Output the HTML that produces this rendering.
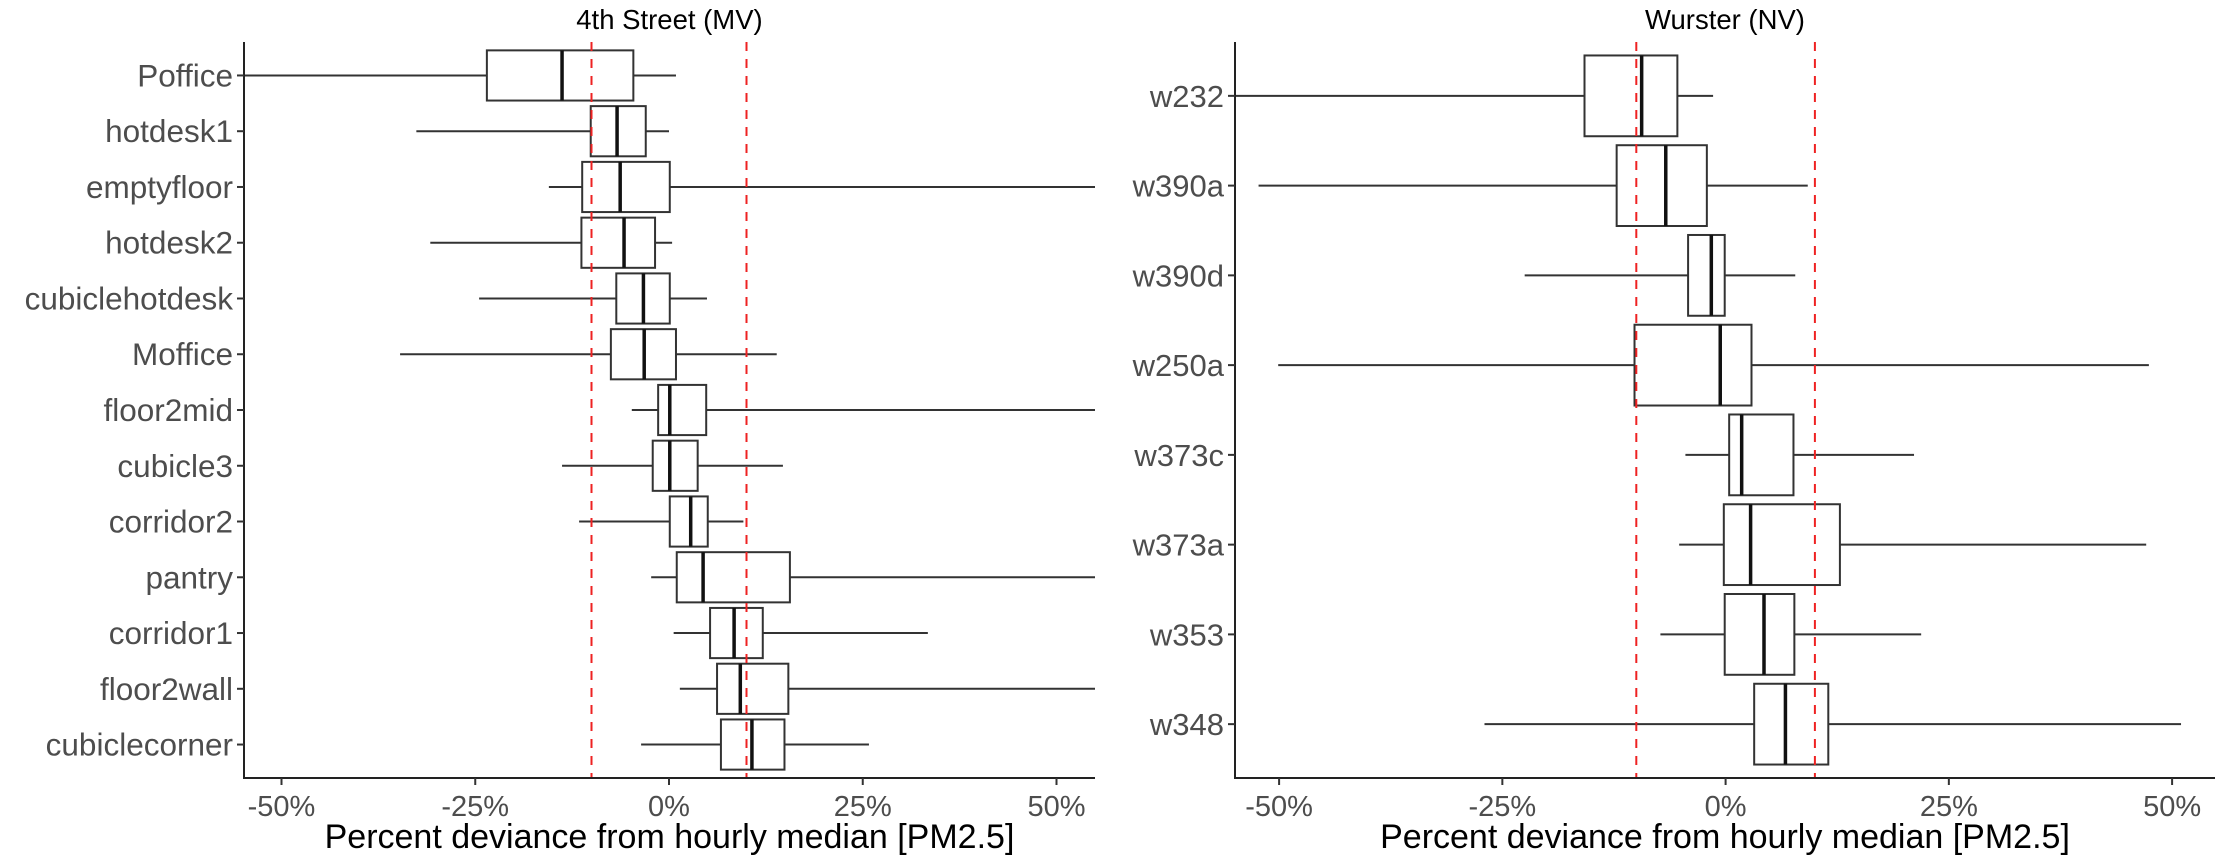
<!DOCTYPE html>
<html><head><meta charset="utf-8"><style>
html,body{margin:0;padding:0;background:#fff;}
svg{display:block;font-family:"Liberation Sans",Arial,sans-serif;}
</style></head><body>
<svg id="chart" width="2220" height="857" viewBox="0 0 2220 857"></svg>
<script>
// ---- Left panel data (4th Street) ----
const leftCats = ["Poffice","hotdesk1","emptyfloor","hotdesk2","cubiclehotdesk","Moffice","floor2mid","cubicle3","corridor2","pantry","corridor1","floor2wall","cubiclecorner"];
const leftLo  = [-60,-32.6,-15.5,-30.8,-24.5,-34.7,-4.8,-13.8,-11.6,-2.3,0.6,1.4,-3.6];
const leftQ1  = [-23.5,-10.1,-11.2,-11.3,-6.8,-7.5,-1.4,-2.1,0.1,1.0,5.3,6.2,6.7];
const leftMed = [-13.8,-6.7,-6.3,-5.8,-3.3,-3.2,0.1,0.1,2.8,4.4,8.4,9.2,10.7];
const leftQ3  = [-4.6,-3.0,0.1,-1.8,0.1,0.9,4.8,3.7,5.0,15.6,12.1,15.4,14.9];
const leftHi  = [0.9,0.0,60,0.4,4.9,13.9,60,14.7,9.6,60,33.4,60,25.8];
// ---- Right panel data (Wurster) ----
const rightCats = ["w232","w390a","w390d","w250a","w373c","w373a","w353","w348"];
const rightLo  = [-60,-52.3,-22.5,-50.1,-4.5,-5.2,-7.3,-27.0];
const rightQ1  = [-15.8,-12.2,-4.2,-10.2,0.4,-0.2,-0.1,3.2];
const rightMed = [-9.4,-6.7,-1.6,-0.6,1.8,2.8,4.3,6.7];
const rightQ3  = [-5.4,-2.1,-0.1,2.9,7.6,12.8,7.7,11.5];
const rightHi  = [-1.4,9.2,7.8,47.4,21.1,47.1,21.9,51.0];
// ---- Axis ticks & reference lines ----
const xTicks = [-50,-25,0,25,50];
const xTickLabels = ["-50%","-25%","0%","25%","50%"];
const refLines = [-10,10];

const NS="http://www.w3.org/2000/svg";
const svg=document.getElementById('chart');
function mk(tag,attrs,parent){const e=document.createElementNS(NS,tag);for(const k in attrs)e.setAttribute(k,attrs[k]);(parent||svg).appendChild(e);return e;}

function panel(p){
  const g=mk('g',{});
  
  
  const X=v=>p.zero+v*p.ppu;
  const n=p.cats.length;
  const unit=(p.y1-p.y0)/(n-1+1.2);
  const Y=i=>p.y0+(0.6+i)*unit;
  const bh=unit*0.9;
  const cid='clip-'+p.name;
  const cp=mk('clipPath',{id:cid},g);
  mk('rect',{x:p.x0,y:p.y0,width:p.x1-p.x0,height:p.y1-p.y0},cp);
  const plot=mk('g',{'clip-path':'url(#'+cid+')'},g);
  for(let i=0;i<n;i++){
    const bg=mk('g',{},plot);
    
    
    const y=Y(i);
    mk('line',{x1:X(p.lo[i]),x2:X(p.q1[i]),y1:y,y2:y,stroke:'#333',"stroke-width":2},bg);
    mk('line',{x1:X(p.q3[i]),x2:X(p.hi[i]),y1:y,y2:y,stroke:'#333',"stroke-width":2},bg);
    mk('rect',{x:X(p.q1[i]),y:y-bh/2,width:X(p.q3[i])-X(p.q1[i]),height:bh,fill:'#fff',stroke:'#333',"stroke-width":2},bg);
    mk('line',{x1:X(p.med[i]),x2:X(p.med[i]),y1:y-bh/2,y2:y+bh/2,stroke:'#111',"stroke-width":3.5},bg);
  }
  refLines.forEach(r=>{
    const l=mk('line',{x1:X(r),x2:X(r),y1:p.y0,y2:p.y1,stroke:'#ee2222',"stroke-width":2,"stroke-dasharray":"9,8"},plot);
    
    
  });
  mk('line',{x1:p.x0,x2:p.x0,y1:p.y0,y2:p.y1+1,stroke:'#222',"stroke-width":2},g);
  mk('line',{x1:p.x0-1,x2:p.x1,y1:p.y1,y2:p.y1,stroke:'#222',"stroke-width":2},g);
  for(let i=0;i<n;i++){
    mk('line',{x1:p.x0-7,x2:p.x0,y1:Y(i),y2:Y(i),stroke:'#333',"stroke-width":2},g);
    const t=mk('text',{x:p.x0-11,y:Y(i)+11,"text-anchor":'end',"font-size":p.ls,fill:'#4d4d4d'},g);
    t.textContent=p.cats[i];
    
    
  }
  xTicks.forEach((v,k)=>{
    mk('line',{x1:X(v),x2:X(v),y1:p.y1,y2:p.y1+7,stroke:'#333',"stroke-width":2},g);
    const t=mk('text',{x:X(v),y:p.y1+38,"text-anchor":'middle',"font-size":29,fill:'#4d4d4d'},g);
    t.textContent=xTickLabels[k];
    
    
  });
  const xt=mk('text',{x:(p.x0+p.x1)/2,y:p.y1+70,"text-anchor":'middle',"font-size":34,fill:'#000'},g);
  xt.textContent='Percent deviance from hourly median [PM2.5]';
  
  
  const tt=mk('text',{x:(p.x0+p.x1)/2,y:29,"text-anchor":'middle',"font-size":27.5,fill:'#000'},g);
  tt.textContent=p.title;
  
  
}
panel({name:'left-panel',title:'4th Street (MV)',cats:leftCats,lo:leftLo,q1:leftQ1,med:leftMed,q3:leftQ3,hi:leftHi,x0:244,x1:1095,zero:669,ppu:7.75,y0:42,y1:778,ls:31.5});
panel({name:'right-panel',title:'Wurster (NV)',cats:rightCats,lo:rightLo,q1:rightQ1,med:rightMed,q3:rightQ3,hi:rightHi,x0:1235,x1:2215,zero:1725.6,ppu:8.93,y0:42,y1:778,ls:31});
</script>
</body></html>
